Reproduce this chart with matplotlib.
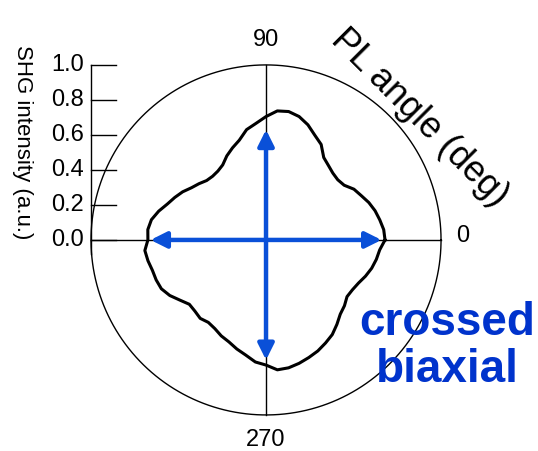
import numpy as np
import matplotlib
matplotlib.use('Agg')
import matplotlib.pyplot as plt

plt.rcParams['font.family'] = ['Liberation Sans', 'DejaVu Sans']

# polar SHG pattern, angle in degrees (every 5 deg), intensity in a.u.
angle_deg = np.arange(0, 360, 5)
shg = [0.680, 0.675, 0.660, 0.645, 0.625, 0.600, 0.580, 0.545, 0.535, 0.540,
       0.555, 0.575, 0.630, 0.660, 0.700, 0.730, 0.745, 0.740, 0.705, 0.668,
       0.640, 0.590, 0.560, 0.530, 0.495, 0.480, 0.475, 0.480, 0.500, 0.520,
       0.550, 0.575, 0.600, 0.635, 0.665, 0.678, 0.675, 0.695, 0.685, 0.672,
       0.668, 0.660, 0.635, 0.600, 0.572, 0.575, 0.585, 0.575, 0.585, 0.605,
       0.620, 0.645, 0.668, 0.700, 0.715, 0.745, 0.742, 0.730, 0.715, 0.700,
       0.680, 0.660, 0.630, 0.600, 0.585, 0.565, 0.570, 0.583, 0.605, 0.625,
       0.640, 0.652]

# radial axis
r_ticks = [0.0, 0.2, 0.4, 0.6, 0.8, 1.0]
r_max = 1.0
angle_labels = {0: '0', 90: '90', 270: '270'}

# polarisation arrows (extent along each direction)
arrow_h = (-0.66, 0.66)
arrow_v = (-0.686, 0.63)

fig = plt.figure(figsize=(5.38, 4.51), dpi=100)
ax = fig.add_axes([0, 0, 1, 1])
ax.set_xlim(-1.52, 1.554)
ax.set_ylim(-1.206, 1.371)
ax.set_aspect('equal')
ax.axis('off')

# outer circle and crosshair
t = np.linspace(0, 2 * np.pi, 400)
ax.plot(r_max * np.cos(t), r_max * np.sin(t), color='black', lw=1.0)
ax.plot([-r_max, r_max], [0, 0], color='black', lw=1.0)
ax.plot([0, 0], [-r_max, r_max], color='black', lw=1.0)

# radial axis on the left
ax.plot([-r_max, -r_max], [-0.08, r_max], color='black', lw=1.0)
for rt in r_ticks:
    ax.plot([-r_max, -r_max + 0.143], [rt, rt], color='black', lw=1.0)
    ax.text(-r_max - 0.04, rt, '%.1f' % rt, ha='right', va='center', fontsize=17)
ax.text(-1.39, 0.56, 'SHG intensity (a.u.)', rotation=-90, ha='center',
        va='center', fontsize=16)

# angle labels
ax.text(1.126, 0.02, angle_labels[0], ha='center', va='center', fontsize=17)
ax.text(0, 1.143, angle_labels[90], ha='center', va='center', fontsize=17)
ax.text(0, -1.143, angle_labels[270], ha='center', va='center', fontsize=17)
ax.text(0.88, 0.70, 'PL angle (deg)', rotation=-45, ha='center', va='center',
        fontsize=26, rotation_mode='anchor')

# data curve
th = np.deg2rad(np.append(angle_deg, 360))
r = np.append(shg, shg[0])
ax.plot(r * np.cos(th), r * np.sin(th), color='black', lw=2.2)

# arrows
blue = '#0a50d8'
ax.annotate('', xy=(arrow_h[1], 0), xytext=(arrow_h[0], 0),
            arrowprops=dict(arrowstyle='<|-|>', color=blue, lw=3.2,
                            mutation_scale=24, shrinkA=0, shrinkB=0))
ax.annotate('', xy=(0, arrow_v[1]), xytext=(0, arrow_v[0]),
            arrowprops=dict(arrowstyle='<|-|>', color=blue, lw=3.2,
                            mutation_scale=24, shrinkA=0, shrinkB=0))

ax.text(1.034, -0.61, 'crossed\nbiaxial', color='#0033cc', fontsize=33,
        fontweight='bold', ha='center', va='center', linespacing=1.08)

fig.savefig('out.png', dpi=100)
